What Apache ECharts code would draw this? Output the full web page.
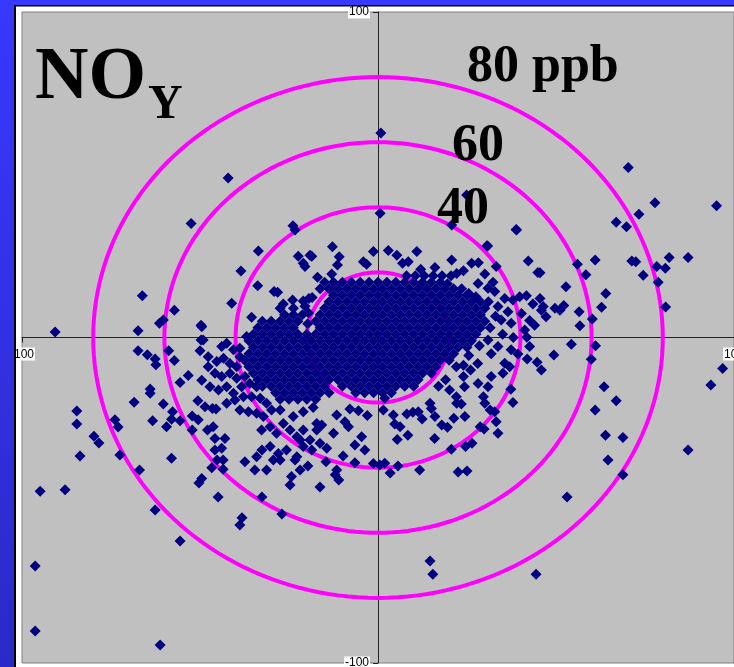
<!DOCTYPE html>
<html>
<head>
<meta charset="utf-8">
<title>NOy scatter</title>
<script src="https://cdn.jsdelivr.net/npm/echarts@6/dist/echarts.min.js"></script>
<style>
  html, body { margin: 0; padding: 0; background: #fff; }
  #chart { width: 734px; height: 667px; }
</style>
</head>
<body>
<div id="chart"></div>
<script>
// Axis range and tick labels
const axisMin = -100;
const axisMax = 100;
const axisStep = 200;

// Reference rings (ppb) and their captions
const ringRadii = [20, 40, 60, 80];
const ringCaptions = ['40', '60', '80 ppb'];

// Dense core of the cloud, stored row by row: [y, [x, x, ...]]
const coreRows = [
  [17, [-15, -12.5, -10, -7.5, -5, -2.5, 0, 2.5, 5, 7.5, 10, 12.5, 15, 17.5]],
  [15, [-16.25, -13.75, -11.25, -8.75, -6.25, -3.75, -1.25, 1.25, 3.75, 6.25, 8.75, 11.25, 13.75, 16.25, 18.75, 21.25]],
  [13, [-12.5, -10, -7.5, -5, -2.5, 0, 2.5, 5, 7.5, 10, 12.5, 15, 17.5, 20, 22.5, 25]],
  [11, [-13.75, -11.25, -8.75, -6.25, -3.75, -1.25, 1.25, 3.75, 6.25, 8.75, 11.25, 13.75, 16.25, 18.75, 21.25, 23.75, 26.25, 28.75]],
  [9, [-15, -12.5, -10, -7.5, -5, -2.5, 0, 2.5, 5, 7.5, 10, 12.5, 15, 17.5, 20, 22.5, 25, 27.5, 30]],
  [7, [-16.25, -13.75, -11.25, -8.75, -6.25, -3.75, -1.25, 1.25, 3.75, 6.25, 8.75, 11.25, 13.75, 16.25, 18.75, 21.25, 23.75, 26.25, 28.75]],
  [5, [-17.5, -15, -12.5, -10, -7.5, -5, -2.5, 0, 2.5, 5, 7.5, 10, 12.5, 15, 17.5, 20, 22.5, 25, 27.5, 30]],
  [3, [-16.25, -13.75, -11.25, -8.75, -6.25, -3.75, -1.25, 1.25, 3.75, 6.25, 8.75, 11.25, 13.75, 16.25, 18.75, 21.25, 23.75, 26.25, 28.75]],
  [1, [-20, -17.5, -15, -12.5, -10, -7.5, -5, -2.5, 0, 2.5, 5, 7.5, 10, 12.5, 15, 17.5, 20, 22.5, 25, 27.5]],
  [-1, [-36.25, -33.75, -31.25, -28.75, -26.25, -23.75, -21.25, -18.75, -16.25, -13.75, -11.25, -8.75, -6.25, -3.75, -1.25, 1.25, 3.75, 6.25, 8.75, 11.25, 13.75, 16.25, 18.75, 21.25, 23.75, 26.25]],
  [-3, [-35, -32.5, -30, -27.5, -25, -22.5, -20, -17.5, -15, -12.5, -10, -7.5, -5, -2.5, 0, 2.5, 5, 7.5, 10, 12.5, 15, 17.5, 20, 22.5, 25]],
  [-5, [-36.25, -33.75, -31.25, -28.75, -26.25, -23.75, -21.25, -18.75, -16.25, -13.75, -11.25, -8.75, -6.25, -3.75, -1.25, 1.25, 3.75, 6.25, 8.75, 11.25, 13.75, 16.25, 18.75, 21.25]],
  [-7, [-37.5, -35, -32.5, -30, -27.5, -25, -22.5, -20, -17.5, -15, -12.5, -10, -7.5, -5, -2.5, 0, 2.5, 5, 7.5, 10, 12.5, 15, 17.5, 20]],
  [-9, [-36.25, -33.75, -31.25, -28.75, -26.25, -23.75, -21.25, -18.75, -16.25, -13.75, -11.25, -8.75, -6.25, -3.75, -1.25, 1.25, 3.75, 6.25, 8.75, 11.25, 13.75, 16.25]],
  [-11, [-35, -32.5, -30, -27.5, -25, -22.5, -20, -17.5, -15, -12.5, -10, -7.5, -5, -2.5, 0, 2.5, 5, 7.5, 10, 12.5, 15]],
  [-13, [-33.75, -31.25, -28.75, -26.25, -23.75, -21.25, -18.75, -16.25, -13.75, -11.25, -8.75, -6.25, -3.75, -1.25, 1.25, 3.75, 6.25, 8.75, 11.25]],
  [-15, [-32.5, -30, -27.5, -25, -22.5, -20, -17.5, -15, -10, -7.5, -5, -2.5, 0, 2.5, 5, 7.5, 10]],
  [-17, [-28.75, -26.25, -23.75, -21.25, -18.75, -16.25, -13.75, -6.25, -3.75, -1.25, 1.25, 3.75]],
  [-19, [-27.5, -25, -22.5, -20, -17.5]]
];

// Left arm of the cloud
const leftArm = [
  [-21.25, 7], [-23.75, 7], [-26.25, 7], [-23.75, 9], [-27.5, 9], [-19.5, 7.5], [-21, 11.2],
  [-19.75, 4.2], [-20.5, 9.6], [-18.5, 12.3], [-24, 11.5],
  [-22.5, 5], [-25, 5], [-27.5, 5], [-30, 5], [-32.5, 5],
  [-23.75, 3], [-26.25, 3], [-28.75, 3], [-31.25, 3], [-33.75, 3],
  [-22.5, 1], [-25, 1], [-27.5, 1], [-30, 1], [-32.5, 1], [-35, 1],
  [-49.5, 3.3], [-49.7, -0.8], [-43.9, -2.8], [-42.5, -1.8], [-40.6, -3.8], [-38.8, -3.3], [-36.9, 0.3],
  [-47.7, -5.9], [-45.3, -7.4], [-43.4, -6.4], [-41.6, -8], [-39.7, -9], [-38.8, -5.9],
  [-47.7, -9], [-45.8, -11], [-43.9, -12], [-41.6, -11], [-39.7, -12.5], [-37.4, -12],
  [-49.5, -13.1], [-47.2, -15.1], [-44.8, -16.1], [-42.5, -15.1], [-40.6, -17.1], [-38.3, -15.1], [-36, -14.1], [-34.1, -15.1],
  [-42.5, -20.2], [-40.2, -19.2], [-37.8, -18.2], [-35.5, -18.2], [-33.1, -18.7], [-31.3, -20.2],
  [-38.8, -22.3], [-36.4, -22.8], [-34.1, -23.3], [-32.2, -24.3], [-29.9, -22.3],
  [-32.7, -28.4], [-30.3, -27.4], [-28.5, -29.4], [-26.6, -26.4], [-24.7, -28.4], [-22.8, -30.5], [-21, -28.4],
  [-19.1, -31.5], [-17.2, -28.4], [-17.2, -26.4],
  [-25.7, -34.6], [-22.8, -36.6], [-21, -33.5], [-18.6, -34.6], [-16.3, -32.5], [-14.4, -34], [-12.5, -29.4],
  [-11.6, -40.7], [-8.3, -27.4], [-5.5, -22.5], [-3, -24], [-4.6, -30.5], [-3.7, -34.6], [-1.3, -38.7],
  [-30.3, -33.5], [-28, -35.6], [-29.4, -37.6], [-23.3, -37.6], [-34.1, -36.6], [-31.3, -40.7], [-24.3, -42.7]
];

// Points above the core
const upperHalo = [
  [-33.6, 26.6], [-38.5, 20.4], [-33.8, 15.9], [-41.1, 10.5], [-28.2, 13.9], [-26.6, 10.3], [-35.5, 6.2],
  [-23.3, 33], [-12.8, 27.9], [-22.4, 25], [-19.1, 25.3], [-20.5, 21.8], [-10.9, 24.8], [-11.4, 22.3],
  [-4.1, 23.3], [-1.3, 26.4], [-3.2, 22.5], [-19.4, 12], [-21, 22.8], [-18.6, 25], [-29.2, 14.1],
  [2.9, 26.7], [5.3, 25.3], [6.9, 22.8], [8.5, 23.3], [10.9, 26.4], [20.7, 23.8], [22.1, 19.7],
  [26.3, 22.8], [28.2, 23], [30.8, 28.1], [33.2, 21.8], [30, 19.5], [32.3, 17],
  [8, 19], [10.5, 19], [13, 19], [15.5, 19], [18, 19], [20.5, 19], [12, 21], [16, 21.5], [24, 20.5],
  [-17, 18.5], [-13, 19.5], [19.5, 16.5], [23.5, 15], [25.5, 13.5], [27.5, 12.5]
];

// Right arm of the cloud
const rightArm = [
  [45.5, 12], [46.4, 9.5], [47.2, 6.4], [49.7, 9], [51.1, 8.4], [52.2, 9.8], [45.5, 19.9], [42.2, 23.5],
  [44.9, 20], [38.9, 33], [30.6, 28.2], [41.8, 0.1], [42.6, -2.8], [41.9, -6.6], [44.7, -7.6], [45.9, -10],
  [37.9, 11.5], [39.8, 12.5], [41.7, 12.8], [43.5, 10.3], [45.9, 8.4], [40.3, 7.4], [42.6, 5.2], [44, 3.8],
  [41.2, 2.3], [37.4, -3.8], [39.3, -5.1], [30.9, -0.8], [33.7, -2.8], [35.6, -7.9], [37, -9],
  [31.8, -5], [28.1, 16.6], [30.9, 15.1], [32.8, 14.1], [35.6, 12], [33.7, 9.5], [36.5, 7.9], [34.6, 5.4],
  [37.4, 4.4], [31, 11], [33, 6.5], [31.5, 3], [35, 1], [38, 0], [28.5, -2.5], [25.5, -5.5], [24, -8.5]
];

// Points below the core
const lowerHalo = [
  [-27.5, -22.3], [-23.8, -24.3], [-21, -22.8], [-18.2, -21.5], [-15.8, -26.9], [-11.6, -23.8], [-9.3, -25.9],
  [-7.9, -22], [1.5, -22.3], [4.3, -23.8], [6.2, -27.4], [8.1, -23.5], [11.3, -22.8], [14.6, -20.2],
  [16, -24.3], [17.9, -26.9], [22.1, -20.2], [24.4, -24.3], [28.7, -27.4], [29.6, -18.2], [31.5, -22.3],
  [37.3, -15.9], [37.9, -20], [32.8, -22.8], [33.2, -25.9], [33.7, -29.4], [29.8, -28.1], [30, -20.2],
  [23.4, -20.4], [21.3, -24.8], [19.5, -27.6], [15.9, -31], [26.4, -32.5], [24.6, -33.5], [20.6, -34.3],
  [25, -41], [11.7, -40.7], [8.4, -30], [5.4, -31.3], [1.9, -38.6], [0.5, -39.2], [15, -21.8], [12.4, -25],
  [9.8, -23], [4.7, -26.6], [1.9, -18.7], [20.1, -16.1], [22, -18.2], [24.3, -15.1], [28.1, -14.1],
  [30.9, -15.1], [31.8, -12], [35.1, -11], [17, -15], [19, -13], [24, -12], [26, -10], [28, -8], [22, -9]
];

// Scattered outer points
const outerPoints = [
  [-90.7, 1.7], [-96.3, -70.2], [-96.3, -90.2], [-94.9, -47.2], [-87.9, -46.8], [-84.6, -22.6], [-84.6, -26.6],
  [-83.7, -36.4], [-79.8, -30.3], [-78.4, -32.4], [-73.9, -25.3], [-73, -27.5], [-72.5, -36.1], [-66.2, 12.8],
  [-57.2, 8.4], [-61.4, 4.4], [-60.3, 5.4], [-67.4, 2.1], [-49.7, 3.8], [-67.4, -4.1], [-64.8, -5.3],
  [-62.6, -6.6], [-62.4, -8.4], [-58.8, -4.1], [-57.2, -7.1], [-50, -4.1], [-49.1, -0.8], [-55.6, -13.8],
  [-53.3, -11.7], [-64, -15.8], [-64, -17.1], [-68.5, -19.9], [-60.3, -20.4], [-57.7, -22.8], [-63.3, -25.6],
  [-58, -25.1], [-55.6, -25.6], [-59.4, -27.4], [-52.2, -24.1], [-50.5, -25.3], [-52.2, -28.4], [-50.6, -19.4],
  [-48.6, -21.3], [-46.5, -21.8], [-45.5, -22], [-47.9, -28.4], [-46.3, -27.4], [-45.8, -31], [-43, -31],
  [-43.9, -34], [-45.8, -34.6], [-43.5, -37.6], [-45.2, -37.6], [-58, -37.1], [-67, -40.7], [-46.7, -40],
  [-43.5, -40.5], [-49.5, -43.3], [-61.2, -94.5], [-55.6, -62.5], [-62.6, -53], [-38.2, -55.4], [-32.6, -49],
  [-24.7, -45.3], [-16.3, -45.9], [-50.3, -44.7], [-44.9, -49], [-38.8, -57.6], [-27, -54.2], [-21.9, -40.7],
  [-19.7, -39.5], [-12, -42.2], [-11, -43.8], [-6.5, -38.5], [3.4, -41.6], [5.6, -39.5], [22.5, -41.3],
  [-32.6, -34.6], [-27.5, -37.6], [-21.9, -31.5], [-34.6, -40.7], [-37.4, -38.2], [-14.6, -38.2], [-6.5, -33],
  [-9.8, -36.4], [0.8, 62.8], [0.6, 38.2], [-42.1, 49], [-23.9, 34.3], [-52.5, 35],
  [24.9, 43.8], [20.7, 34.6], [38.8, 33.2], [70.3, 52.2], [77.8, 41.4], [73.3, 37.9], [66.9, 35.4], [69.8, 34],
  [95.1, 40.5], [61, 23.8], [56, 22.5], [58.4, 19.3], [71.3, 23.5], [72.4, 23.3], [81.8, 24.6], [87.1, 24.6],
  [78.3, 21.8], [80.7, 21.3], [74.5, 19.1], [78.7, 17], [80.8, 9.4], [52.8, 15.6], [64, 13.5], [62.8, 9.3],
  [56.5, 7.9], [60.2, 5.7], [56.7, 3.6], [54.3, -2.1], [61.1, -2.5], [59.9, -6.7], [49.4, -5.4], [63.5, -15.1],
  [66.9, -19.4], [61, -22.3], [63.9, -30], [68.8, -30.7], [64.6, -37.6], [68.8, -42.2], [87.1, -34.6],
  [96.8, -9.5], [93.5, -14.6], [53.1, -49], [44.4, -72.7], [14.6, -68.7], [15.4, -72.7]
];

// Assemble every measurement into one scatter data list
const points = [];
coreRows.forEach(([y, xs]) => xs.forEach(x => points.push([x, y])));
[leftArm, upperHalo, rightArm, lowerHalo, outerPoints].forEach(list => list.forEach(p => points.push(p)));

const chart = echarts.init(document.getElementById('chart'), null, { renderer: 'canvas' });

// plot rectangle in pixels: x 22..734, y 12..663; axes cross at the centre
const gridLeft = 22, gridTop = 12, gridW = 712, gridH = 651;

const labelStyle = {
  fontFamily: '"Liberation Sans", Arial, sans-serif',
  fontSize: 12,
  color: '#000',
  backgroundColor: '#fff',
  padding: [1, 1, 0, 1]
};

const serifBold = (size) => 'bold ' + size + 'px "Liberation Serif", "Times New Roman", serif';

chart.setOption({
  backgroundColor: '#ffffff',
  animation: false,
  grid: {
    left: gridLeft, top: gridTop, width: gridW, height: gridH,
    containLabel: false,
    outerBoundsMode: 'none',
    show: true,
    backgroundColor: '#C0C0C0',
    borderColor: '#808080',
    borderWidth: 1
  },
  xAxis: {
    type: 'value',
    position: 'bottom',
    offset: -gridH / 2,
    min: axisMin, max: axisMax, interval: axisStep,
    axisLine: { onZero: false, lineStyle: { color: '#222', width: 1 } },
    axisTick: { show: true, length: 5, lineStyle: { color: '#222' } },
    splitLine: { show: false },
    axisLabel: Object.assign({ margin: 10, showMinLabel: true, showMaxLabel: true }, labelStyle)
  },
  yAxis: {
    type: 'value',
    position: 'left',
    offset: -gridW / 2,
    min: axisMin, max: axisMax, interval: axisStep,
    axisLine: { onZero: false, lineStyle: { color: '#222', width: 1 } },
    axisTick: { show: true, length: 5, lineStyle: { color: '#222' } },
    splitLine: { show: false },
    axisLabel: Object.assign({ margin: 8, showMinLabel: true, showMaxLabel: true }, labelStyle)
  },
  series: [
    {
      // concentration rings
      type: 'custom',
      coordinateSystem: 'cartesian2d',
      silent: true,
      z: 1,
      data: ringRadii.map(r => [r, 0]),
      renderItem: function (params, api) {
        const r = api.value(0);
        const pts = [];
        for (let k = 0; k <= 180; k++) {
          const a = (k / 180) * 2 * Math.PI;
          pts.push(api.coord([r * Math.cos(a), r * Math.sin(a)]));
        }
        return {
          type: 'polyline',
          shape: { points: pts },
          style: { stroke: '#FF00FF', lineWidth: 4, fill: null }
        };
      }
    },
    {
      type: 'scatter',
      z: 3,
      symbol: 'diamond',
      symbolSize: 11,
      itemStyle: { color: '#000080', opacity: 1 },
      data: points
    }
  ],
  graphic: {
    elements: [
      { type: 'text', x: 35, y: 79, z: 50, style: { text: 'NO', font: serifBold(74), fill: '#000', align: 'left', verticalAlign: 'middle' } },
      { type: 'text', x: 148, y: 106, z: 50, style: { text: 'Y', font: serifBold(48), fill: '#000', align: 'left', verticalAlign: 'middle' } },
      { type: 'text', x: 467, y: 68, z: 50, style: { text: ringCaptions[2], font: serifBold(52), fill: '#000', align: 'left', verticalAlign: 'middle' } },
      { type: 'text', x: 452, y: 147, z: 50, style: { text: ringCaptions[1], font: serifBold(52), fill: '#000', align: 'left', verticalAlign: 'middle' } },
      { type: 'text', x: 437, y: 210, z: 50, style: { text: ringCaptions[0], font: serifBold(52), fill: '#000', align: 'left', verticalAlign: 'middle' } },
      // slide frame: blue edge with a dark rule
      {
        type: 'rect', z: 100, shape: { x: 0, y: 0, width: 14, height: 667 },
        style: { fill: { type: 'linear', x: 0, y: 0, x2: 0, y2: 1, colorStops: [{ offset: 0, color: '#3838FF' }, { offset: 1, color: '#2A2AC8' }] } }
      },
      { type: 'rect', z: 100, shape: { x: 0, y: 0, width: 734, height: 5 }, style: { fill: '#3838FF' } },
      { type: 'rect', z: 100, shape: { x: 14, y: 5, width: 2, height: 662 }, style: { fill: '#000' } },
      { type: 'rect', z: 100, shape: { x: 14, y: 5, width: 720, height: 1.5 }, style: { fill: '#000' } }
    ]
  }
});
</script>
</body>
</html>
